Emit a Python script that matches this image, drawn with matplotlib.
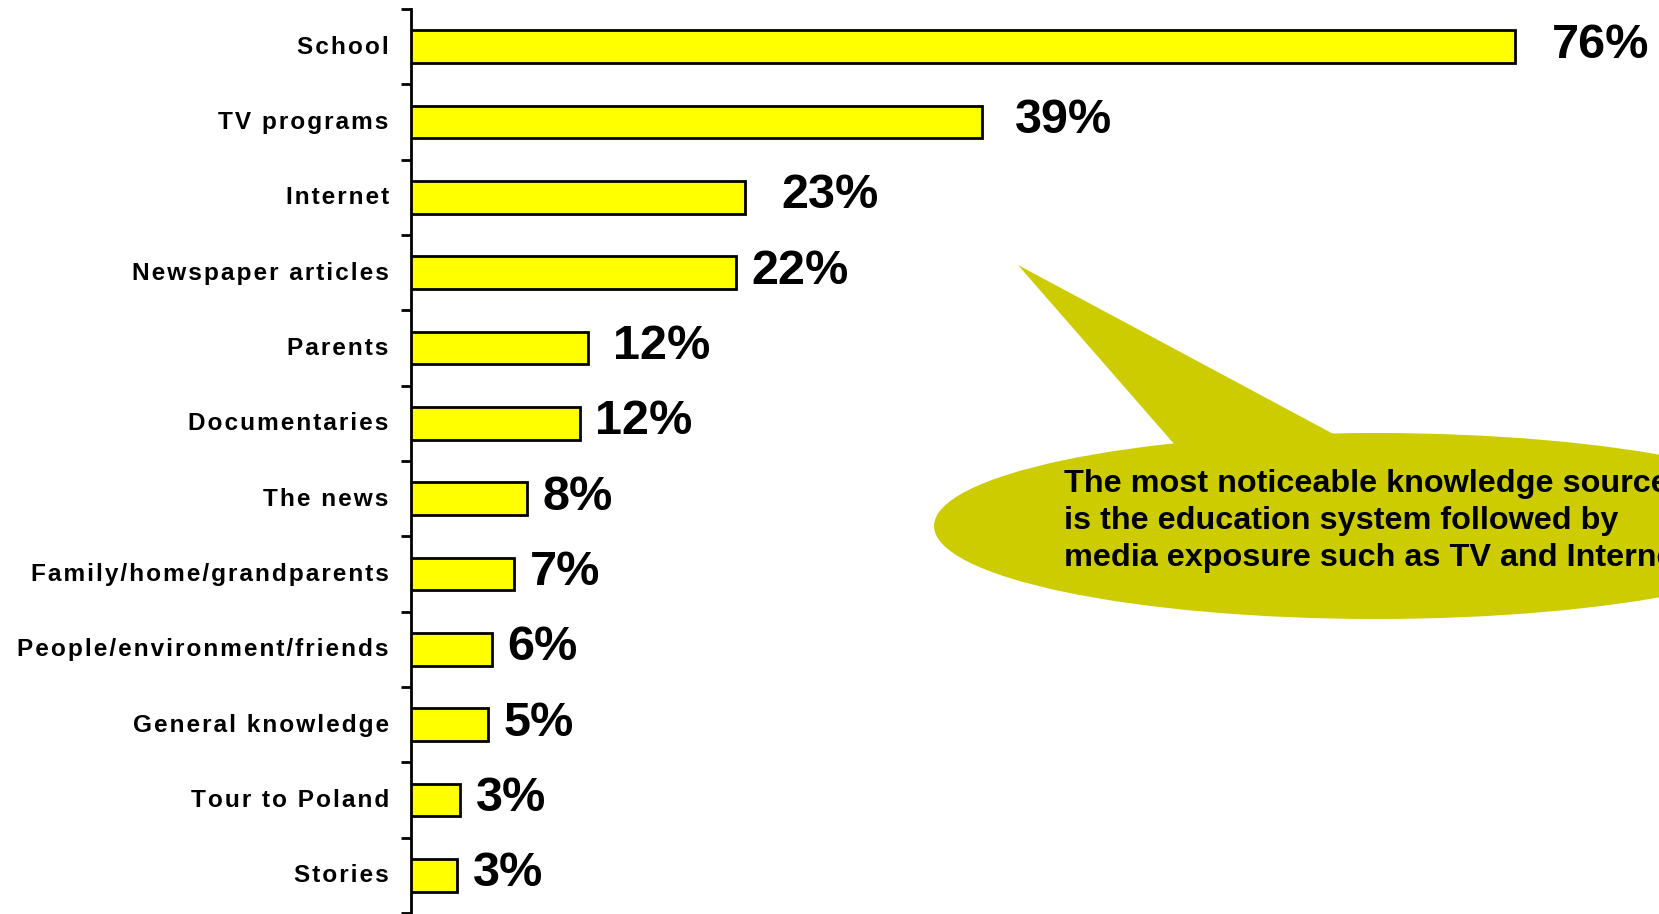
import numpy as np
import matplotlib.pyplot as plt
import matplotlib.transforms as mtransforms
from matplotlib.patches import Ellipse, Polygon

categories = [
    "School", "TV programs", "Internet", "Newspaper articles", "Parents",
    "Documentaries", "The news", "Family/home/grandparents",
    "People/environment/friends", "General knowledge", "Tour to Poland", "Stories",
]
values = [76, 39.3, 23, 22.4, 12.2, 11.6, 8, 7.1, 5.6, 5.3, 3.4, 3.2]
value_labels = ["76%", "39%", "23%", "22%", "12%", "12%", "8%", "7%", "6%", "5%", "3%", "3%"]
# gap (points) between bar end and its value label, as placed in the original slide
label_gaps = [26, 24, 26, 11, 18, 11, 11, 11, 11, 11, 11, 11]

callout = ("The most noticeable knowledge source\n"
           "is the education system followed by\n"
           "media exposure such as TV and Internet")

W, H = 1659, 914
fig = plt.figure(figsize=(W / 100, H / 100), dpi=100)
ax = fig.add_axes([411 / W, 1 - 913 / H, 1 - 411 / W, 904 / H])

n = len(categories)
y = np.arange(n)
ax.barh(y, values, height=0.43, color="#FFFF00", edgecolor="black", linewidth=2, zorder=3)
ax.set_ylim(n - 0.5, -0.5)
ax.set_xlim(0, 1248 / 14.53)

for yi, v, lab, gap in zip(y, values, value_labels, label_gaps):
    ax.annotate(lab, (v, yi), xytext=(gap, 1), textcoords="offset points",
                ha="left", va="center", fontsize=35, fontweight="bold",
                family=["Liberation Sans", "DejaVu Sans"])

ax.set_yticks(y)
ax.set_yticklabels(["\u200a".join(c) for c in categories],
                   fontsize=17.6, fontweight="bold", family=["Liberation Sans", "DejaVu Sans"])
ax.tick_params(axis="y", which="major", length=0, pad=16)
shift = mtransforms.ScaledTranslation(0, 2 / 100, fig.dpi_scale_trans)
for t in ax.get_yticklabels():
    t.set_transform(t.get_transform() + shift)
ax.set_yticks(np.arange(n + 1) - 0.5, minor=True)
ax.tick_params(axis="y", which="minor", length=7, width=2, direction="out")
ax.set_xticks([])
for s in ["top", "right", "bottom"]:
    ax.spines[s].set_visible(False)
ax.spines["left"].set_linewidth(2)

# callout bubble in figure pixel coordinates
olive = "#CCCC00"
tf = fig.transFigure
def fp(px, py):
    return (px / W, 1 - py / H)

ell = Ellipse(fp(1376, 526), 884 / W, 186 / H, transform=tf, facecolor=olive,
              edgecolor="none", zorder=1)
fig.patches.append(ell)
tri = Polygon([fp(1018, 265), fp(1175, 445), fp(1339, 437)], closed=True,
              transform=tf, facecolor=olive, edgecolor="none", zorder=1)
fig.patches.append(tri)
fig.text(1064 / W, 1 - 521 / H, callout, ha="left", va="center", fontsize=23.3,
         fontweight="bold", family=["Liberation Sans", "DejaVu Sans"], linespacing=1.32)

fig.savefig("out.png", dpi=100)
